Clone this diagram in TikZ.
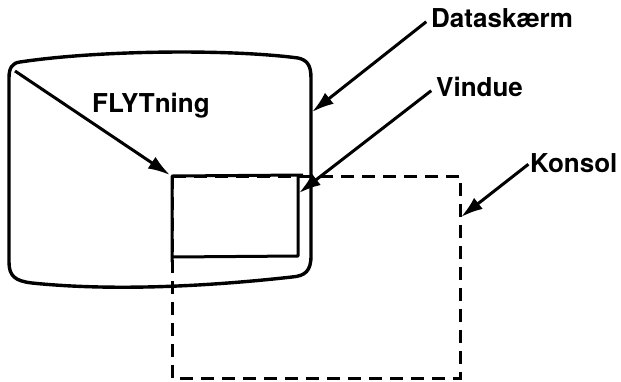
\documentclass[tikz,border=0pt]{standalone}
\usepackage{fontspec}
\setmainfont{TeX Gyre Heros}
\usetikzlibrary{arrows.meta}
\pgfdeclarelayer{edgelayer}
\pgfdeclarelayer{nodelayer}
\pgfsetlayers{edgelayer,nodelayer,main}
\tikzstyle{label_text}=[anchor=west,inner sep=0pt,font=\fontsize{26}{30}\selectfont\bfseries]
\tikzstyle{pointer}=[-{Latex[length=22pt,width=14pt]},draw=black,line width=3pt,shorten <=6pt]
\tikzstyle{outline}=[draw=black,line width=3.4pt,line join=round]
\tikzstyle{dashed_box}=[draw=black,line width=3pt,dash pattern=on 13pt off 8pt]

\begin{document}
\begin{tikzpicture}[x=1pt,y=-1pt]
	\useasboundingbox (0,0) rectangle (621,381);
	\begin{pgfonlayer}{nodelayer}
		\node [style={label_text}] (0) at (431, 18) {Datask\ae rm};
		\node [style={label_text}] (1) at (436, 87) {Vindue};
		\node [style={label_text}] (2) at (530, 163) {Konsol};
		\node [style={label_text}] (3) at (92, 106) {FLYTning};
		\coordinate (4) at (15, 71);
		\coordinate (5) at (170, 175);
		\coordinate (6) at (312, 112);
		\coordinate (7) at (299, 193);
		\coordinate (8) at (461, 217);
	\end{pgfonlayer}
	\begin{pgfonlayer}{edgelayer}
		% screen
		\draw [style=outline] (20,62) .. controls (100,50) and (230,49) .. (298,58)
			.. controls (307,60) and (311,65) .. (311,78) -- (311,256)
			.. controls (311,271) and (305,276) .. (292,277)
			.. controls (220,285) and (120,292) .. (32,283)
			.. controls (15,281) and (9,276) .. (9,262) -- (9,78)
			.. controls (9,68) and (12,63) .. (20,62) -- cycle;
		% console and window
		\draw [style={dashed_box}] (172,176) rectangle (460,378);
		\draw [style=outline, line width=3pt] (303,175) -- (172,176) -- (172,262);
		\draw [style=outline, line width=3pt] (298,176) -- (298,256) -- (172,257);
		\draw [style=pointer, shorten <=0pt] (4) to (5);
		\draw [style=pointer] (0.west) to (6);
		\draw [style=pointer] (1.west) to (7);
		\draw [style=pointer, shorten <=2pt] (2.west) to (8);
	\end{pgfonlayer}
\end{tikzpicture}
\end{document}
